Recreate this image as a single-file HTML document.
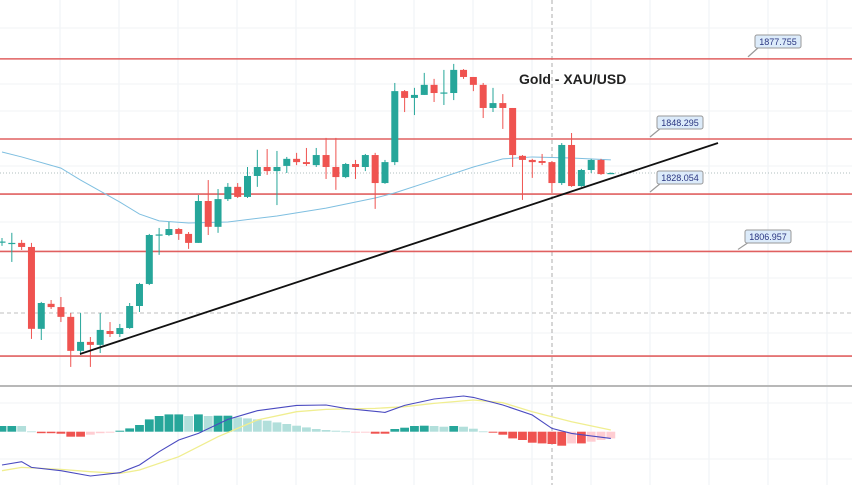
<!DOCTYPE html>
<html><head><meta charset="utf-8"><style>
html,body{margin:0;padding:0;background:#fff;}
svg{display:block;font-family:"Liberation Sans",sans-serif;}
</style></head><body>
<svg id="chart" width="852" height="485" viewBox="0 0 852 485" xmlns="http://www.w3.org/2000/svg">
<rect width="852" height="485" fill="#ffffff"/>
<g id="grid"></g>
<g id="levels"></g>
<g id="ma"></g>
<g id="candles"></g>
<g id="trend"></g>
<g id="labels"></g>
<text x="519" y="84" text-anchor="start" font-size="14" font-weight="bold" fill="#222">Gold - XAU/USD</text>
<line x1="0" y1="386" x2="852" y2="386" stroke="#b8b8b8" stroke-width="2"/>
<g id="macd"></g>
</svg>
<script>
const opens=[1810.4,1810.1,1810.1,1808.6,1778.5,1787.7,1786.5,1782.9,1770.4,1773.7,1772.6,1777.7,1776.6,1778.8,1786.9,1795.0,1813.0,1813.0,1815.2,1813.4,1810.1,1825.5,1816.0,1826.2,1830.7,1827.0,1834.7,1838.0,1836.5,1838.4,1841.0,1839.8,1838.7,1842.4,1838.0,1834.3,1839.1,1838.0,1842.4,1832.1,1839.8,1865.9,1863.4,1864.5,1868.2,1865.2,1865.2,1873.7,1871.1,1868.2,1859.7,1861.5,1859.7,1842.1,1840.6,1840.2,1839.8,1832.1,1846.1,1831.0,1836.9,1840.6,1835.4];
const highs=[1811.9,1813.8,1811.2,1810.1,1788.4,1789.1,1790.2,1784.3,1784.3,1775.5,1784.3,1781.0,1780.3,1788.0,1795.4,1813.4,1815.6,1817.8,1815.6,1814.1,1827.7,1833.2,1829.9,1832.1,1832.1,1838.0,1844.3,1844.6,1843.9,1841.7,1843.2,1845.0,1845.0,1848.7,1848.7,1839.5,1840.6,1842.8,1843.2,1840.6,1868.9,1866.3,1867.1,1872.6,1870.4,1873.7,1875.9,1874.0,1871.1,1868.9,1867.1,1864.8,1859.7,1842.4,1841.0,1842.8,1840.2,1846.8,1850.5,1837.3,1841.0,1841.0,1836.0];
const lows=[1809.0,1803.1,1807.5,1774.8,1774.4,1785.8,1781.0,1764.5,1768.9,1764.5,1769.6,1775.5,1775.5,1778.5,1784.7,1794.6,1805.7,1812.6,1811.2,1807.9,1810.1,1813.0,1813.8,1825.5,1826.6,1826.6,1830.7,1835.1,1824.0,1835.8,1838.7,1838.4,1838.0,1833.6,1829.6,1833.9,1833.6,1836.5,1822.6,1831.8,1838.7,1858.2,1857.1,1864.5,1861.9,1860.8,1862.6,1870.4,1865.9,1856.0,1858.2,1852.0,1838.0,1825.9,1834.0,1838.7,1828.5,1831.4,1830.7,1830.7,1835.8,1835.1,1835.4];
const closes=[1810.6,1810.1,1808.6,1778.5,1788.0,1786.5,1782.9,1770.4,1773.7,1772.6,1778.1,1776.6,1778.8,1786.9,1795.0,1813.0,1813.2,1815.2,1813.4,1810.1,1825.5,1816.0,1826.2,1830.7,1827.0,1834.7,1838.0,1836.5,1838.0,1841.0,1839.8,1839.1,1842.4,1838.0,1834.3,1839.1,1838.0,1842.4,1832.1,1839.8,1865.9,1863.4,1864.5,1868.2,1865.2,1865.4,1873.7,1871.1,1868.2,1859.7,1861.5,1859.7,1842.4,1840.6,1839.8,1839.5,1832.1,1846.1,1831.0,1836.9,1840.6,1835.4,1835.8];
const maIdx=[0,2,6,8,12,14,16,19,23,28,33,38,40,44,48,51,54,58,62];
const maVal=[1843.5,1841.7,1837.6,1833.2,1825.1,1820.7,1818.2,1817.4,1817.8,1820.0,1822.9,1826.6,1828.5,1833.2,1838.0,1841.0,1841.7,1841.3,1840.6];
const levelPrices=[1877.755,1848.295,1828.054,1806.957,1768.5];
const levelLabels=["1877.755","1848.295","1828.054","1806.957",""];
const histVals=[5.7,5.7,5.7,0.3,-1.5,-1.5,-2,-5,-5,-3,-1.5,-1,1,3.3,6.7,12.3,15.7,17.3,17.3,15.7,17.3,15.7,16,16,14.3,13.3,12.3,11,9.3,7.7,6,4.3,2.7,1.7,1,0.3,-1,-1,-2,-2,2.7,4,5.7,6,5.7,5,5.7,5,3,0.3,-1,-3,-6.7,-8.3,-11,-11.7,-12.3,-14,-11.7,-11.7,-10,-8.3,-6.7];
const histColors=["d","d","l","l","r","r","r","r","r","p","p","p","d","d","d","d","d","d","d","l","d","l","d","d","l","l","l","l","l","l","l","l","l","l","l","l","p","p","r","r","d","d","d","d","l","l","d","l","l","l","r","r","r","r","r","r","r","r","p","r","p","p","p"];
const macdIdx=[0,2,3,6,9,12,14,16,18,20,23,26,30,33,35,39,41,44,47,48,51,54,56,58,62];
const macdVal=[-33.3,-30,-35.7,-39,-44.3,-41,-33.3,-20,-8.3,-1.7,12.3,21,26.3,26.7,23.3,19.3,26.3,32.7,35.7,34.3,26.7,16.7,3.3,-1.7,-6.7];
const sigIdx=[0,2,6,9,12,14,18,22,26,30,33,38,41,44,48,51,54,58,62];
const sigVal=[-39,-35.7,-37.7,-40,-41.7,-38.3,-25,-5,11.7,20,22.3,23.3,25,28.3,31.7,29,20,10,1.7];

const NS="http://www.w3.org/2000/svg";
function el(tag,attrs,parent){const e=document.createElementNS(NS,tag);for(const k in attrs)e.setAttribute(k,attrs[k]);parent.appendChild(e);return e;}
const xOf=i=>2+9.82*i;
const yOf=p=>139-(p-1848.295)*2.72;
const yM=v=>431.7-v;

const grid=document.getElementById('grid');
for(let x=60;x<852;x+=59){const l=el('line',{x1:x,y1:0,x2:x,y2:485,stroke:'#eef1f5','stroke-width':1},grid);
}
[28,84,111,166,222,278,333,403,459].forEach(y=>{const l=el('line',{x1:0,y1:y,x2:852,y2:y,stroke:'#f1f3f6','stroke-width':1},grid);
});
let g1=el('line',{x1:0,y1:173,x2:852,y2:173,stroke:'#9aa','stroke-width':0.8,'stroke-dasharray':'1,2'},grid);

let g2=el('line',{x1:0,y1:313,x2:852,y2:313,stroke:'#aaa','stroke-width':0.8,'stroke-dasharray':'4,3'},grid);

let g3=el('line',{x1:552,y1:0,x2:552,y2:485,stroke:'#999','stroke-width':0.8,'stroke-dasharray':'4,3'},grid);


const lv=document.getElementById('levels');
levelPrices.forEach(p=>{const l=el('line',{x1:0,y1:yOf(p),x2:852,y2:yOf(p),stroke:'#e06060','stroke-width':1.6},lv);
});

const ma=document.getElementById('ma');
let mp=el('polyline',{points:maIdx.map((i,k)=>xOf(i)+','+yOf(maVal[k])).join(' '),fill:'none',stroke:'#7fbfe0','stroke-width':1},ma);


const cg=document.getElementById('candles');
opens.forEach((o,i)=>{const c=closes[i];const up=c>=o;const col=up?'#26a69a':'#ef5350';const x=xOf(i);
const w=el('line',{x1:x,y1:yOf(highs[i]),x2:x,y2:yOf(lows[i]),stroke:col,'stroke-width':1},cg);

const top=yOf(Math.max(o,c)),bot=yOf(Math.min(o,c));
const b=el('rect',{x:x-3.5,y:top,width:7,height:Math.max(1.2,bot-top),fill:col},cg);
});

const tr=document.getElementById('trend');
let tl=el('line',{x1:80,y1:354,x2:718,y2:143,stroke:'#111','stroke-width':1.8},tr);


const lb=document.getElementById('labels');
const labelX=[755,657,657,745];
const labelY=[35,116,171,230];
levelLabels.forEach((t,k)=>{if(!t)return;const bx=labelX[k],by=labelY[k];const ly=yOf(levelPrices[k]);
const p=el('polyline',{points:(bx+4)+','+(by+12)+' '+(bx-7)+','+(ly-2),fill:'none',stroke:'#999','stroke-width':1.2},lb);

const r=el('rect',{x:bx,y:by,width:46,height:13,rx:2,fill:'#dcebfa',stroke:'#999','stroke-width':1},lb);

const tx=el('text',{x:bx+23,y:by+10,'text-anchor':'middle','font-size':9,fill:'#2a3580'},lb);tx.textContent=t;
});

const mg=document.getElementById('macd');
const colMap={d:'#26a69a',l:'#b2dfdb',r:'#ef5350',p:'#ffcdd2'};
histVals.forEach((v,i)=>{const x=xOf(i);const y=v>=0?yM(v):yM(0);
const r=el('rect',{x:x-4.4,y:y,width:8.8,height:Math.max(0.8,Math.abs(v)),fill:colMap[histColors[i]]},mg);
});
let sl=el('polyline',{points:sigIdx.map((i,k)=>xOf(i)+','+yM(sigVal[k])).join(' '),fill:'none',stroke:'#f0ee90','stroke-width':1.3},mg);

let ml=el('polyline',{points:macdIdx.map((i,k)=>xOf(i)+','+yM(macdVal[k])).join(' '),fill:'none',stroke:'#4a4ac0','stroke-width':1.1},mg);

</script>
</body></html>
